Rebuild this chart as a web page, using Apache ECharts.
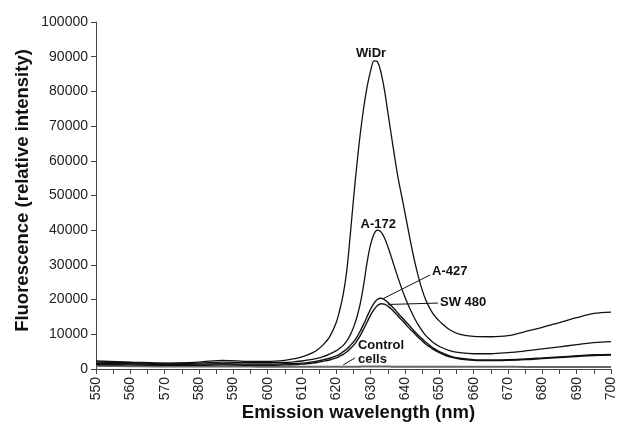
<!DOCTYPE html>
<html>
<head>
<meta charset="utf-8">
<script src="https://cdn.jsdelivr.net/npm/echarts@6/dist/echarts.min.js"></script>
<style>
  html, body { margin: 0; padding: 0; background: #fff; }
  #main { width: 619px; height: 435px; }
</style>
</head>
<body>
<div id="main"></div>
<script>
// emission wavelength (nm), shared by all curves
const wavelength = [550, 560, 570, 580, 587, 595, 600, 605, 608, 610, 612, 614, 616, 618, 620, 621, 622, 623, 624, 625, 626, 627, 628, 629, 630, 631, 632, 633, 634, 635, 636, 637, 638, 639, 640, 641, 642, 643, 644, 645, 646, 647, 648, 649, 650, 653, 656, 660, 665, 670, 675, 680, 685, 690, 695, 700]

// fluorescence (relative intensity)
const widr = [2300, 2000, 1700, 2000, 2500, 2200, 2200, 2500, 3000, 3500, 4200, 5200, 6800, 9200, 13500, 17000, 21500, 28000, 38000, 49000, 59000, 68000, 75500, 81500, 86000, 88800, 88500, 85500, 80500, 74000, 67500, 61000, 55000, 50000, 45000, 39800, 34800, 30200, 26200, 22800, 20000, 17900, 16200, 14900, 13800, 11300, 10000, 9400, 9300, 9600, 10800, 12000, 13400, 14800, 16000, 16400]
const a172 = [2000, 1800, 1600, 1700, 2000, 1800, 1800, 1900, 2100, 2300, 2600, 3000, 3500, 4300, 5300, 6000, 6800, 8000, 9700, 12000, 15000, 19000, 24500, 31000, 36000, 39000, 40000, 39500, 37800, 35300, 32300, 29200, 26200, 23300, 20700, 18300, 16200, 14200, 12500, 11000, 9700, 8700, 7800, 7100, 6500, 5300, 4700, 4400, 4400, 4700, 5200, 5800, 6400, 7000, 7600, 7900]
const a427 = [1600, 1500, 1300, 1400, 1500, 1400, 1400, 1500, 1600, 1700, 1900, 2200, 2600, 3100, 3800, 4300, 5000, 5700, 6700, 7800, 9200, 11000, 13000, 15200, 17300, 19000, 20100, 20400, 20000, 19200, 18200, 17200, 16000, 15000, 13900, 12800, 11700, 10600, 9600, 8700, 7800, 7000, 6200, 5600, 5000, 3800, 3100, 2700, 2600, 2700, 2900, 3200, 3500, 3800, 4100, 4200]
const sw480 = [1300, 1200, 1100, 1100, 1200, 1100, 1100, 1200, 1300, 1400, 1600, 1800, 2200, 2600, 3200, 3700, 4200, 4900, 5800, 6800, 8100, 9700, 11600, 13600, 15600, 17200, 18300, 18800, 18700, 18100, 17300, 16300, 15200, 14200, 13100, 12000, 11000, 10000, 9000, 8100, 7200, 6500, 5800, 5200, 4700, 3500, 2900, 2500, 2400, 2500, 2700, 3000, 3300, 3600, 3900, 4000]
const control = [900, 800, 700, 700, 750, 700, 650, 650, 650, 650, 650, 650, 650, 650, 650, 650, 650, 650, 650, 650, 650, 680, 700, 700, 700, 700, 700, 700, 700, 700, 680, 680, 650, 650, 650, 650, 650, 650, 650, 650, 650, 650, 650, 650, 650, 650, 650, 650, 650, 650, 600, 600, 600, 600, 600, 600]

// curve labels, placed in data units [nm, intensity]
const labels = [
  { text: 'WiDr', at: [630.1, 91000], align: 'center' },
  { text: 'A-172', at: [632.2, 41800], align: 'center' },
  { text: 'A-427', at: [647.9, 28000], align: 'left' },
  { text: 'SW 480', at: [650.2, 19300], align: 'left' },
  { text: 'Control\ncells', at: [626.3, 4700], align: 'left' }
]
// leader lines from label to curve
const leaders = [
  [[647.3, 27100], [633.7, 20300]],
  [[649.6, 19000], [635.1, 18600]],
  [[625.4, 3200], [622.0, 1150]]
]

const FONT = 'Liberation Sans, Arial, Helvetica, sans-serif'

const zip = (ys) => wavelength.map((x, i) => [x, ys[i]])

const lineSeries = (name, ys, width, color) => ({
  name: name,
  type: 'line',
  data: zip(ys),
  smooth: 0.35,
  showSymbol: false,
  silent: true,
  lineStyle: { color: color || '#111', width: width }
})

const chart = echarts.init(document.getElementById('main'))
const option = {
  animation: false,
  backgroundColor: '#fff',
  grid: { left: 96, right: 8, top: 22, bottom: 66, containLabel: false, outerBoundsMode: 'none' },
  xAxis: {
    type: 'value',
    min: 550,
    max: 700,
    interval: 5,
    name: 'Emission wavelength (nm)',
    nameLocation: 'middle',
    nameGap: 34,
    nameMoveOverlap: false,
    nameTextStyle: { fontFamily: FONT, fontSize: 18.5, fontWeight: 'bold', color: '#111', padding: [0, 0, 0, 10] },
    axisLine: { lineStyle: { color: '#444', width: 1 } },
    axisTick: { length: 5, lineStyle: { color: '#444' } },
    axisLabel: {
      rotate: 90,
      margin: 8,
      fontFamily: FONT,
      fontSize: 14,
      color: '#222',
      formatter: (v) => (v % 10 === 0 ? String(v) : '')
    },
    splitLine: { show: false }
  },
  yAxis: {
    type: 'value',
    min: 0,
    max: 100000,
    interval: 10000,
    name: 'Fluorescence (relative intensity)',
    nameLocation: 'middle',
    nameGap: 64,
    nameMoveOverlap: false,
    nameTextStyle: { fontFamily: FONT, fontSize: 18.5, fontWeight: 'bold', color: '#111', padding: [0, 0, 0, 10] },
    axisLine: { show: true, lineStyle: { color: '#444', width: 1 } },
    axisTick: { show: true, length: 5, lineStyle: { color: '#444' } },
    axisLabel: { margin: 8, fontFamily: FONT, fontSize: 14, color: '#222', formatter: (v) => String(v) },
    splitLine: { show: false }
  },
  series: [
    lineSeries('Control cells', control, 2, '#666'),
    lineSeries('SW 480', sw480, 1.4),
    lineSeries('A-427', a427, 1.4),
    lineSeries('A-172', a172, 1.3),
    lineSeries('WiDr', widr, 1.3)
  ]
}
chart.setOption(option)

// labels and leader lines, converted from data units to pixels
const px = (p) => chart.convertToPixel({ gridIndex: 0 }, p)
const graphic = []
labels.forEach((item) => {
  const p = px(item.at)
  graphic.push({
    type: 'text',
    x: p[0],
    y: p[1],
    style: {
      text: item.text,
      fontFamily: FONT,
      fontSize: 13,
      fontWeight: 'bold',
      fill: '#111',
      align: item.align,
      verticalAlign: 'middle',
      lineHeight: 14
    }
  })
})
leaders.forEach((seg) => {
  const a = px(seg[0])
  const b = px(seg[1])
  graphic.push({
    type: 'line',
    shape: { x1: a[0], y1: a[1], x2: b[0], y2: b[1] },
    style: { stroke: '#111', lineWidth: 1 }
  })
})
chart.setOption({ graphic: graphic })
</script>
</body>
</html>
